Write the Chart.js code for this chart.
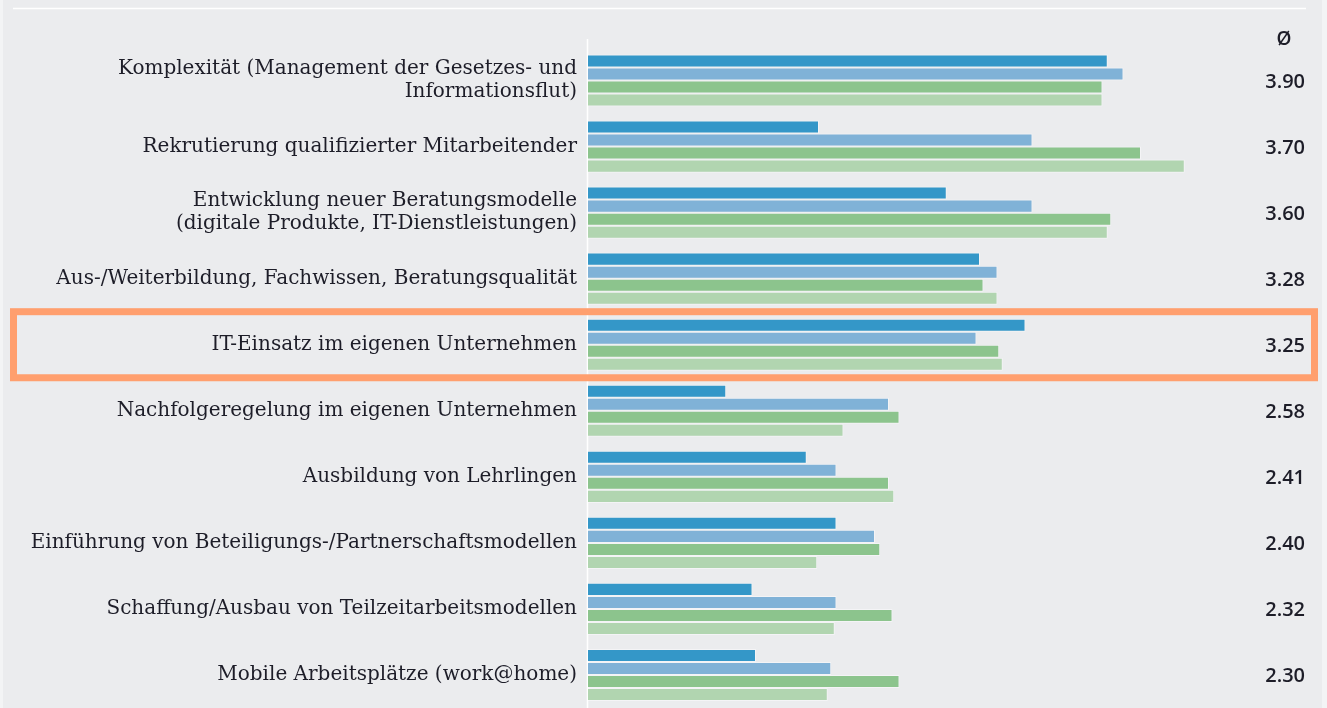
<!DOCTYPE html>
<html>
<head>
<meta charset="utf-8">
<script src="https://cdn.jsdelivr.net/npm/chart.js@4.4.1/dist/chart.umd.min.js"></script>
<style>
  html,body{margin:0;padding:0;background:#ebecee;}
  #wrap{position:relative;width:1327px;height:708px;}
</style>
</head>
<body>
<div id="wrap"><canvas id="c" width="1327" height="708"></canvas></div>
<script>
// Kategorien (von oben nach unten)
const categories=[
  ['Komplexität (Management der Gesetzes- und','Informationsflut)'],
  'Rekrutierung qualifizierter Mitarbeitender',
  ['Entwicklung neuer Beratungsmodelle','(digitale Produkte, IT-Dienstleistungen)'],
  'Aus-/Weiterbildung, Fachwissen, Beratungsqualität',
  'IT-Einsatz im eigenen Unternehmen',
  'Nachfolgeregelung im eigenen Unternehmen',
  'Ausbildung von Lehrlingen',
  'Einführung von Beteiligungs-/Partnerschaftsmodellen',
  'Schaffung/Ausbau von Teilzeitarbeitsmodellen',
  'Mobile Arbeitsplätze (work@home)'
];
// vier Balken je Kategorie (Skala 1..5)
const series1=[3.97,2.32,3.05,3.24,3.50,1.79,2.25,2.42,1.94,1.96];
const series2=[4.06,3.54,3.54,3.34,3.22,2.72,2.42,2.64,2.42,2.39];
const series3=[3.94,4.16,3.99,3.26,3.35,2.78,2.72,2.67,2.74,2.78];
const series4=[3.94,4.41,3.97,3.34,3.37,2.46,2.75,2.31,2.41,2.37];
// Durchschnitt (rechte Spalte)
const avgHeader='Ø';
const avgLabels=['3.90','3.70','3.60','3.28','3.25','2.58','2.41','2.40','2.32','2.30'];
const highlightIndex=4;

const COLORS=['#3497c8','#80b2d7','#8cc48d','#b1d5b0'];
const TXT='#1d1d28';

const decor={
  id:'decor',
  beforeDraw(chart){
    const c=chart.ctx;
    c.save();
    c.fillStyle='#ebecee'; c.fillRect(0,0,chart.width,chart.height);
    c.fillStyle='#f3f4f5'; c.fillRect(1322,0,5,chart.height); c.fillRect(0,0,3,chart.height);
    // weisse Linie oben
    c.strokeStyle='#ffffff'; c.lineWidth=1.5;
    c.beginPath(); c.moveTo(13,8.5); c.lineTo(1306,8.5); c.stroke();
    // Achse
    const x0=chart.scales.x.getPixelForValue(1);
    c.beginPath(); c.moveTo(x0-0.5,39); c.lineTo(x0-0.5,chart.height); c.stroke();
    c.restore();
  },
  afterDraw(chart){
    const c=chart.ctx, ys=chart.scales.y;
    c.save();
    c.fillStyle=TXT;
    c.textAlign='center'; c.textBaseline='middle';
    c.font='600 19px "Open Sans"';
    c.fillText(avgHeader,1284,40);
    c.font='600 20px "Open Sans"';
    c.textAlign='right';
    avgLabels.forEach((t,i)=>c.fillText(t,1305,ys.getPixelForValue(i)+1.5));
    // Markierung
    const yc=ys.getPixelForValue(highlightIndex);
    const half=(ys.getPixelForValue(1)-ys.getPixelForValue(0))/2;
    c.strokeStyle='#ff9f6e'; c.lineWidth=7;
    c.strokeRect(13.5,yc-half,1301,half*2);
    c.restore();
  }
};

function ds(label,data,i){
  return {label,data,backgroundColor:COLORS[i],borderColor:'rgba(255,255,255,0.45)',
    borderWidth:1,borderSkipped:false,categoryPercentage:0.79,barPercentage:1};
}

new Chart(document.getElementById('c'),{
  type:'bar',
  data:{labels:categories,datasets:[
    ds('Serie 1',series1,0),ds('Serie 2',series2,1),
    ds('Serie 3',series3,2),ds('Serie 4',series4,3)
  ]},
  options:{
    indexAxis:'y',responsive:false,animation:false,
    layout:{padding:{top:47.5,right:39,bottom:0,left:0}},
    plugins:{legend:{display:false},tooltip:{enabled:false}},
    scales:{
      x:{display:false,min:1,max:5},
      y:{
        afterFit:s=>{s.width=588;s.paddingTop=0;s.paddingBottom=0;},
        grid:{display:false,drawTicks:false},border:{display:false},
        ticks:{padding:11,color:TXT,font:{family:'"DejaVu Serif"',size:20,lineHeight:1.15}}
      }
    }
  },
  plugins:[decor]
});
</script>
</body>
</html>
